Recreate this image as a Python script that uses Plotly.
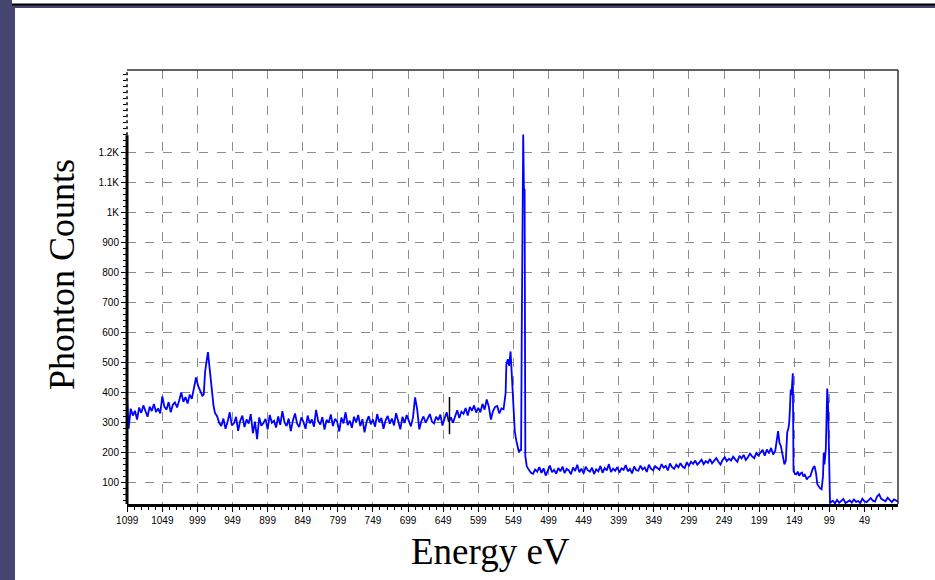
import plotly.graph_objects as go

# ---------------- data ----------------
energy_pre = [1099, 1097, 1094, 1091, 1088, 1085, 1082, 1079, 1076, 1073, 1070, 1067, 1064, 1061, 1058, 1055,
              1052, 1049, 1046, 1043, 1040, 1037, 1034, 1031, 1028, 1025, 1022, 1019, 1016, 1013, 1010, 1007,
              1004, 1001, 998, 995, 992]
counts_pre = [372, 278, 345, 322, 338, 309, 349, 331, 356, 340,
              318, 352, 337, 361, 334, 346, 329, 386, 351, 342,
              367, 333, 358, 366, 349, 372, 399, 368, 384, 362,
              392, 378, 410, 449, 421, 402, 388]

energy_peak1 = [990, 988, 986, 984, 982, 980, 978, 976, 974, 971, 968, 965]
counts_peak1 = [392, 470, 503, 534, 488, 443, 395, 354, 331, 320, 298, 287]

energy_mid = [962, 959, 956, 953, 950, 947, 944, 941, 938, 935,
              932, 929, 926, 923, 920, 917, 914, 911, 908, 905,
              902, 899, 896, 893, 890, 887, 884, 881, 878, 875,
              872, 869, 866, 863, 860, 857, 854, 851, 848, 845,
              842, 839, 836, 833, 830, 827, 824, 821, 818, 815,
              812, 809, 806, 803, 800, 797, 794, 791, 788, 785,
              782, 779, 776, 773, 770, 767, 764, 761, 758, 755,
              752, 749, 746, 743, 740, 737, 734, 731, 728, 725,
              722, 719, 716, 713, 710, 707, 704, 701, 698, 695,
              692, 689, 686, 683, 680, 677, 674, 671, 668, 665,
              662, 659, 656, 653, 650, 647, 644, 641, 638, 635,
              632, 629, 626, 623, 620, 617, 614, 611, 608, 605]
counts_mid = [312, 278, 301, 333, 289, 296, 318, 271, 305, 322,
              284, 309, 295, 327, 263, 302, 243, 316, 288, 297,
              311, 276, 324, 298, 305, 282, 319, 291, 337, 300,
              287, 312, 270, 306, 329, 295, 284, 316, 301, 278,
              322, 296, 309, 285, 341, 303, 292, 317, 275, 308,
              298, 326, 287, 311, 302, 269, 315, 296, 333, 290,
              305, 281, 318, 299, 324, 287, 310, 266, 302, 320,
              293, 309, 285, 327, 300, 314, 278, 306, 321, 295,
              312, 289, 330, 301, 276, 318, 297, 324, 308, 286,
              315, 383, 343, 276, 304, 319, 298, 311, 327, 302,
              296, 318, 307, 325, 289, 312, 333, 301, 316, 298,
              321, 340, 314, 335, 328, 347, 322, 351, 338, 356]

energy_pre_o = [602, 599, 596, 593, 590, 587, 584, 581, 578, 575, 572, 569, 566, 563]
counts_pre_o = [332, 348, 333, 361, 342, 376, 352, 309, 337, 351, 354, 329, 346, 343]

energy_o_edge = [560, 559, 557, 555, 553, 551, 549, 547, 545, 543, 541, 539, 538, 537, 536, 535,
                 534, 533, 532, 530, 528, 526, 524]
counts_o_edge = [398, 493, 510, 488, 536, 433, 333, 270, 240, 212, 199, 209, 205, 626, 1000, 1260,
                 1080, 1076, 187, 153, 145, 138, 131]

energy_low = [521, 518, 515, 512, 509, 506, 503, 500, 497, 494,
              491, 488, 485, 482, 479, 476, 473, 470, 467, 464,
              461, 458, 455, 452, 449, 446, 443, 440, 437, 434,
              431, 428, 425, 422, 419, 416, 413, 410, 407, 404,
              401, 398, 395, 392, 389, 386, 383, 380, 377, 374,
              371, 368, 365, 362, 359, 356, 353, 350, 347, 344,
              341, 338, 335, 332, 329, 326, 323, 320, 317, 314,
              311, 308, 305, 302]
counts_low = [128, 142, 135, 150, 131, 146, 122, 139, 155, 133,
              141, 128, 147, 136, 152, 130, 144, 139, 126, 149,
              137, 158, 133, 145, 129, 151, 140, 135, 148, 127,
              143, 136, 154, 131, 147, 139, 160, 134, 145, 138,
              150, 132, 146, 141, 157, 136, 144, 129, 152, 140,
              138, 155, 142, 149, 134, 158, 145, 139, 153, 147,
              141, 160, 148, 154, 139, 162, 150, 144, 158, 149,
              163, 152, 147, 166]

energy_rise = [299, 296, 293, 290, 287, 284, 281, 278, 275, 272,
               269, 266, 263, 260, 257, 254, 251, 248, 245, 242,
               239, 236, 233, 230, 227, 224, 221, 218, 215, 212,
               209, 206, 203, 200]
counts_rise = [155, 168, 161, 172, 158, 166, 175, 160, 170, 164,
               177, 163, 171, 180, 168, 159, 174, 183, 170, 178,
               172, 185, 176, 168, 188, 179, 191, 174, 183, 195,
               186, 180, 197, 189]

energy_si2 = [197, 194, 191, 188, 185, 182, 179, 176, 174, 172, 170, 168, 166, 164, 163, 161,
              159, 157, 156, 155, 154, 153, 152, 151, 150]
counts_si2 = [199, 208, 188, 209, 196, 214, 192, 205, 238, 270, 231, 220, 196, 178, 159, 171,
              266, 282, 303, 350, 409, 390, 441, 463, 137]

energy_si1 = [148, 146, 144, 142, 140, 138, 136, 134, 132, 131, 129, 127, 126, 124, 122, 120,
              118, 116, 114, 112, 110, 108, 107, 106, 104, 103, 102, 101, 100, 99, 98.5, 98]
counts_si1 = [128, 126, 135, 121, 129, 132, 119, 125, 112, 109, 116, 121, 120, 135, 148, 153,
              131, 92, 84, 79, 76, 120, 199, 159, 210, 330, 412, 376, 250, 209, 120, 29]

energy_tail = [97, 94, 91, 88, 85, 82, 79, 76, 73, 70,
               67, 64, 61, 58, 55, 52, 49, 46, 43, 40,
               37, 34, 31, 28, 25, 22, 19, 16, 13, 10,
               7, 4, 1]
counts_tail = [33, 38, 29, 41, 31, 36, 44, 30, 35, 39,
               32, 42, 34, 37, 30, 45, 36, 33, 40, 47,
               38, 35, 52, 59, 44, 41, 36, 48, 39, 33,
               42, 37, 35]

x_tick_vals = [1099, 1049, 999, 949, 899, 849, 799, 749, 699, 649, 599, 549,
               499, 449, 399, 349, 299, 249, 199, 149, 99, 49]
y_tick_vals = [100, 200, 300, 400, 500, 600, 700, 800, 900, 1000, 1100, 1200]
y_tick_text = ["100", "200", "300", "400", "500", "600", "700", "800", "900", "1K", "1.1K", "1.2K"]

marker_energy = 640
marker_counts = [260, 384]

# ---------------- build ----------------
energy = (energy_pre + energy_peak1 + energy_mid + energy_pre_o + energy_o_edge + energy_low
          + energy_rise + energy_si2 + energy_si1 + energy_tail)
counts = (counts_pre + counts_peak1 + counts_mid + counts_pre_o + counts_o_edge + counts_low
          + counts_rise + counts_si2 + counts_si1 + counts_tail)

W, H = 935, 580
L, R, T, B = 127, 37, 70, 76
PW, PH = W - L - R, H - T - B


def px(x):
    return (x - L) / PW


def py(y):
    return (H - B - y) / PH


fig = go.Figure()
fig.add_trace(go.Scatter(x=energy, y=counts, mode="lines",
                         line=dict(color="#0000ff", width=1.8), hoverinfo="skip",
                         showlegend=False))

tick_font = dict(family="Liberation Sans, Arial, sans-serif", size=10, color="#000000")
fig.update_layout(
    width=W, height=H,
    margin=dict(l=L, r=R, t=T, b=B),
    paper_bgcolor="#45456f",
    plot_bgcolor="#ffffff",
    xaxis=dict(range=[1099.3, 1.2], tickmode="array", tickvals=x_tick_vals,
               ticktext=[str(v) for v in x_tick_vals],
               showgrid=True, gridcolor="#8c8c8c", griddash="dash", gridwidth=1,
               showline=True, linecolor="#000000", linewidth=3,
               ticks="outside", ticklen=5, tickcolor="#000000", tickwidth=1,
               minor=dict(ticks="outside", ticklen=3, tick0=1099, dtick=10,
                          tickcolor="#000000", showgrid=False),
               zeroline=False, tickfont=tick_font, fixedrange=True, automargin=False),
    yaxis=dict(range=[27, 1475], tickmode="array", tickvals=y_tick_vals,
               ticktext=y_tick_text,
               showgrid=True, gridcolor="#8c8c8c", griddash="dash", gridwidth=1,
               showline=False,
               ticks="outside", ticklen=5, tickcolor="#000000", tickwidth=1,
               minor=dict(ticks="outside", ticklen=3, tick0=0, dtick=20,
                          tickcolor="#000000", showgrid=False),
               zeroline=False, tickfont=tick_font, fixedrange=True, automargin=False),
    shapes=[
        # slide white areas
        dict(type="rect", xref="paper", yref="paper", x0=px(15), x1=px(W + 5), y0=py(8), y1=py(H + 5),
             fillcolor="#ffffff", line=dict(width=0), layer="below"),
        dict(type="rect", xref="paper", yref="paper", x0=px(12), x1=px(W + 5), y0=py(-5), y1=py(4),
             fillcolor="#ffffff", line=dict(width=0), layer="below"),
        dict(type="line", xref="paper", yref="paper", x0=px(12), x1=px(W + 5), y0=py(4.5), y1=py(4.5),
             line=dict(color="#000000", width=2), layer="below"),
        # frame top / right
        dict(type="line", xref="paper", yref="paper", x0=0, x1=1, y0=1, y1=1,
             line=dict(color="#303030", width=1.5)),
        dict(type="line", xref="paper", yref="paper", x0=1, x1=1, y0=0, y1=1,
             line=dict(color="#303030", width=1.5)),
        # left axis: thick part + dotted upper part
        dict(type="line", xref="paper", yref="y", x0=0, x1=0, y0=27, y1=1257,
             line=dict(color="#000000", width=3)),
        dict(type="line", xref="paper", yref="y", x0=0, x1=0, y0=1257, y1=1475,
             line=dict(color="#000000", width=1.5, dash="dot")),
        # black cursor marker
        dict(type="line", xref="x", yref="y", x0=marker_energy, x1=marker_energy,
             y0=marker_counts[0], y1=marker_counts[1],
             line=dict(color="#000000", width=1.5)),
    ],
    annotations=[
        dict(text="Phonton Counts", xref="paper", yref="paper", x=px(62), y=py(275),
             showarrow=False, textangle=-90, xanchor="center", yanchor="middle",
             font=dict(family="Liberation Serif, Times New Roman, serif", size=36, color="#000000")),
        dict(text="Energy eV", xref="paper", yref="paper", x=px(490), y=py(551),
             showarrow=False, xanchor="center", yanchor="middle",
             font=dict(family="Liberation Serif, Times New Roman, serif", size=37, color="#000000")),
    ],
)

fig.write_html("out.html",
               config={"displayModeBar": False, "staticPlot": True},
               post_script="document.body.style.margin='0';document.body.style.overflow='hidden';")
